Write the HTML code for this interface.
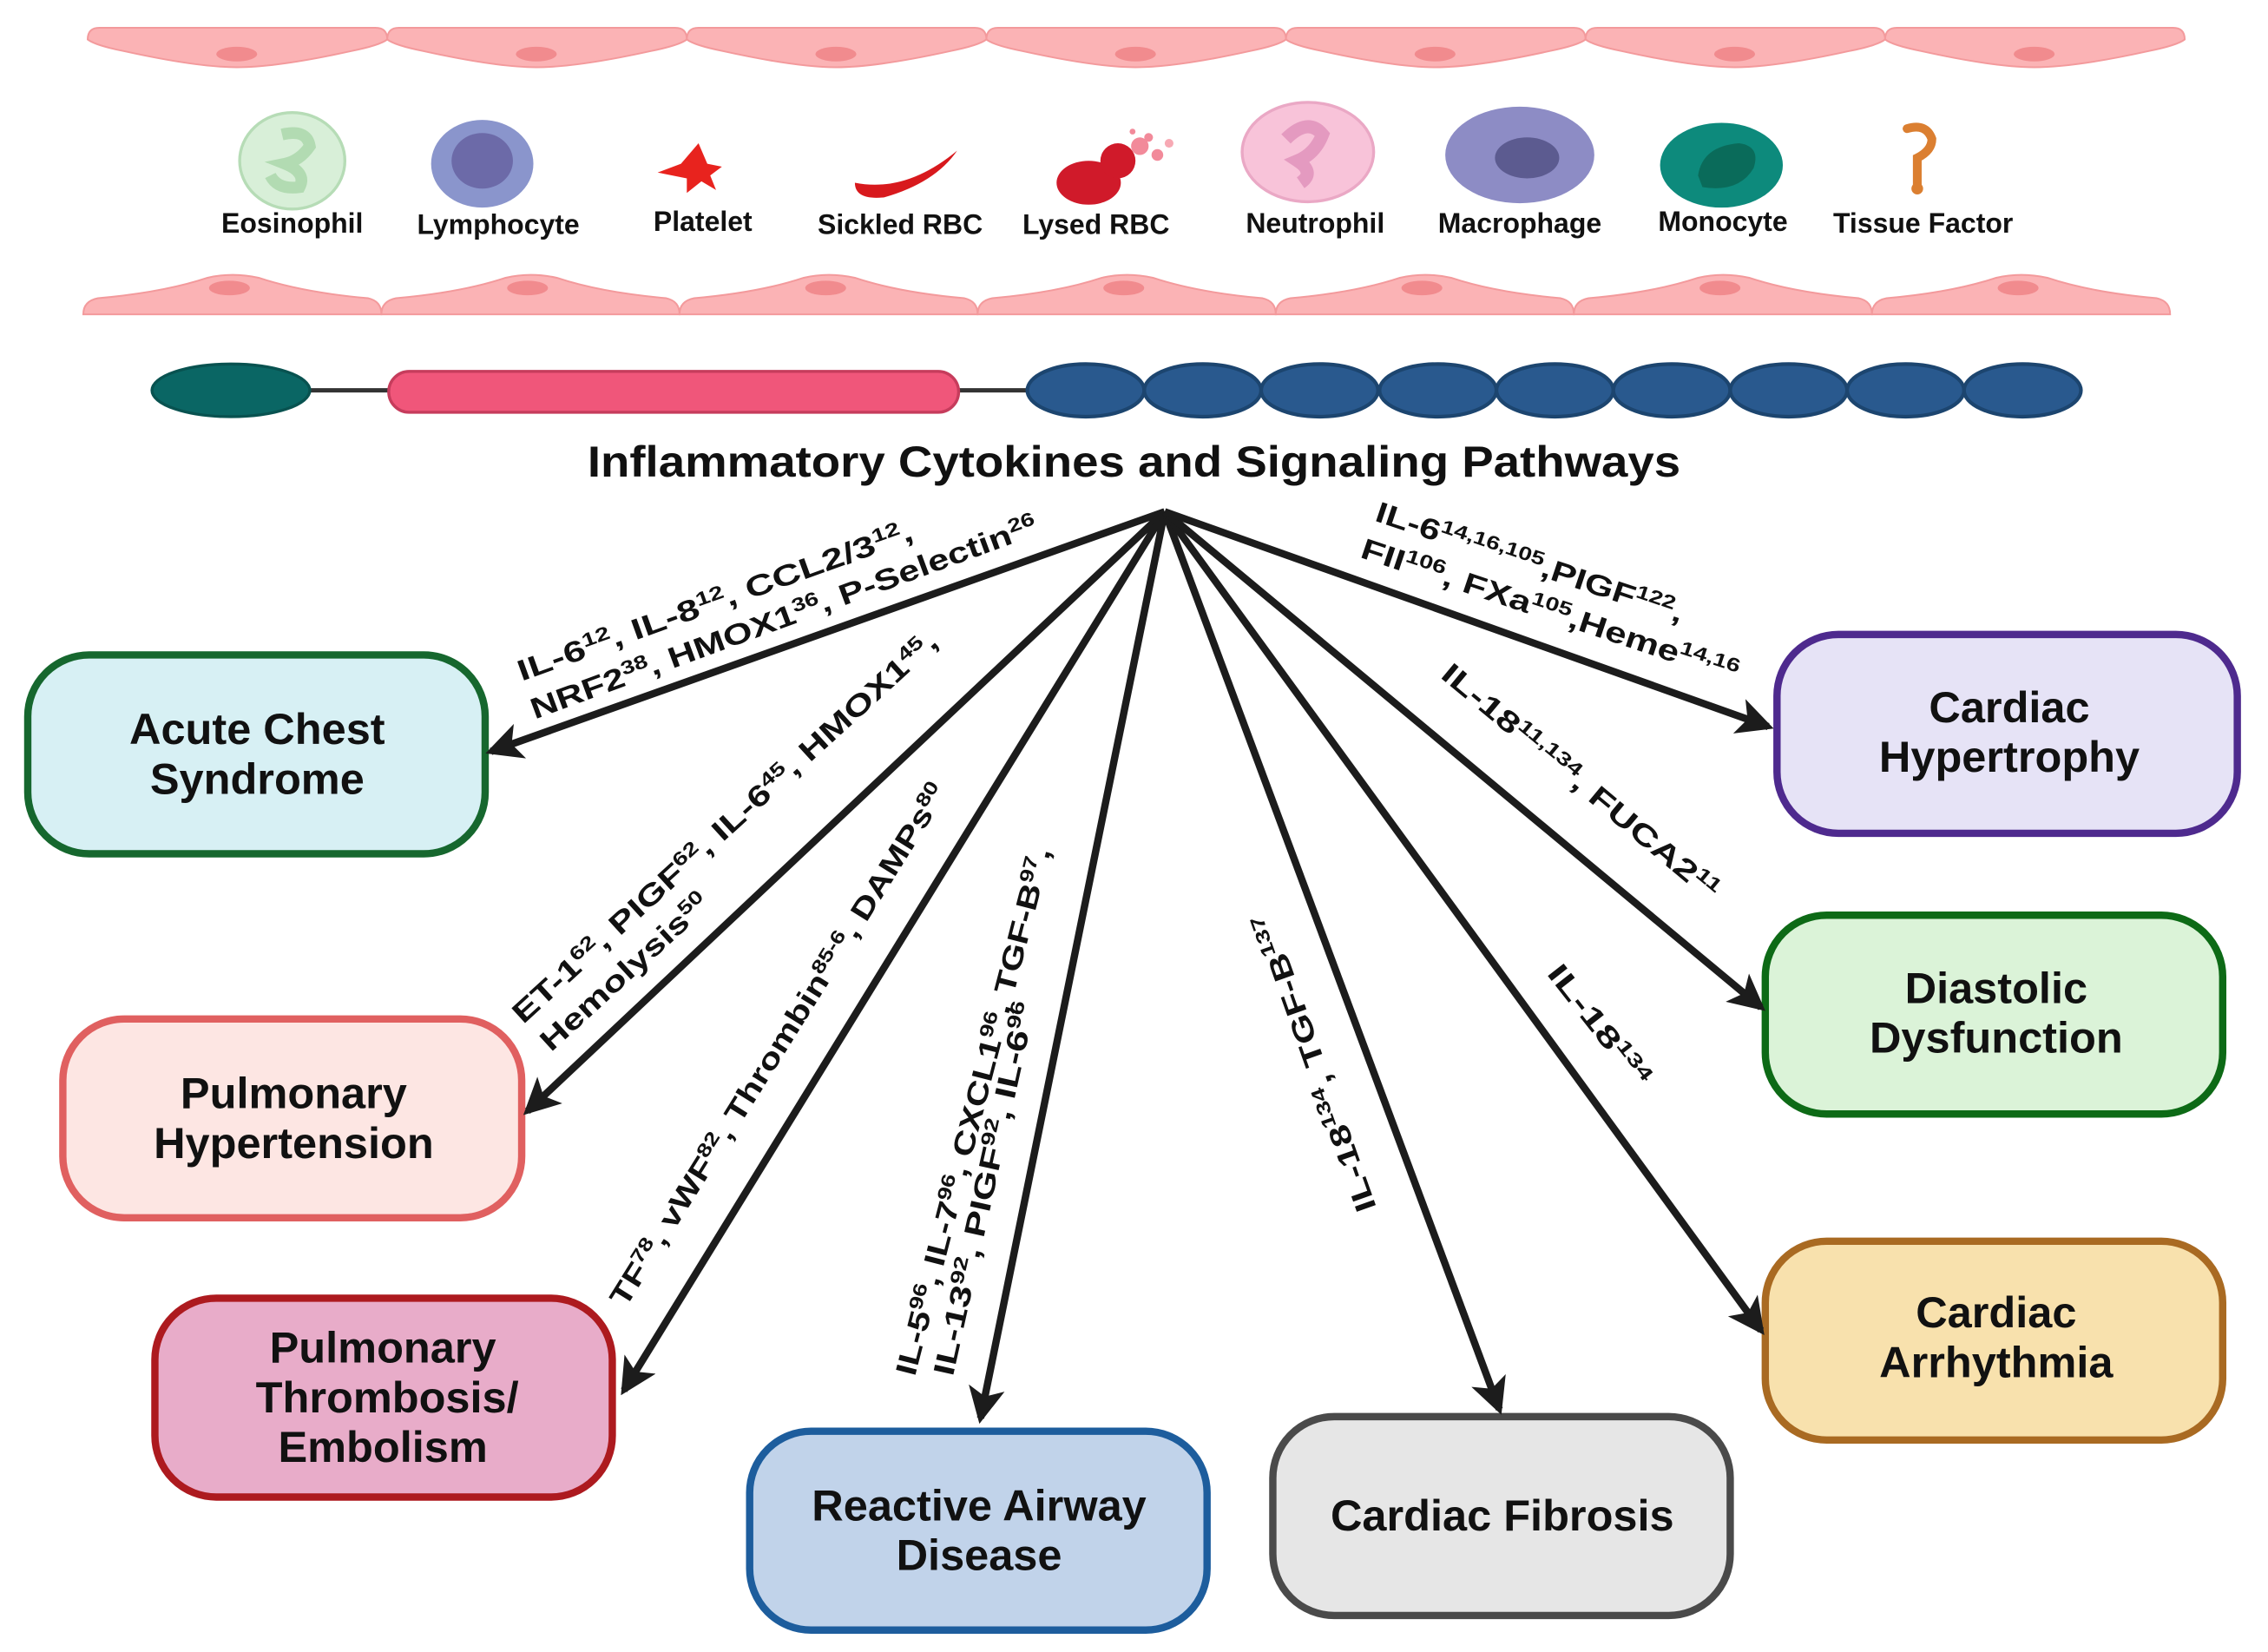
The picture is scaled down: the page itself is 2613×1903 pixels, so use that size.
<!DOCTYPE html>
<html><head><meta charset="utf-8">
<style>
html,body{margin:0;padding:0;background:#fff;}
svg{display:block;}
text{font-family:"Liberation Sans",sans-serif;font-weight:bold;fill:#111;}
.box{font-size:30px;}
.lab{font-size:20px;}
.sup{font-size:13px;}
.cell{font-size:19px;}
</style></head>
<body>
<svg width="2613" height="1903" viewBox="0 0 1552 1130" preserveAspectRatio="none" xmlns="http://www.w3.org/2000/svg">
<defs>
<g id="tc">
<path d="M8,0 H197 Q205,0 205,8 Q200,12 180,16 Q130,27 102,27 Q75,27 25,16 Q5,12 0,8 Q0,0 8,0 Z" fill="#fbb3b5" stroke="#f39a9c" stroke-width="1.2"/>
<ellipse cx="102" cy="18" rx="14" ry="5" fill="#f18b8e"/>
</g>
<g id="bc">
<path d="M0,27 H204 Q204,18 195,16 Q150,12 120,2 Q102,-2 85,2 Q55,12 10,16 Q0,18 0,27 Z" fill="#fbb3b5" stroke="#f39a9c" stroke-width="1.2"/>
<ellipse cx="100" cy="9" rx="14" ry="5" fill="#f18b8e"/>
</g>
<marker id="ah" markerWidth="5" markerHeight="5" refX="4.2" refY="2.5" orient="auto" markerUnits="strokeWidth">
<path d="M0,0 L5,2.5 L0,5 L1.2,2.5 Z" fill="#1c1c1c"/>
</marker>
</defs>

<use href="#tc" x="60" y="19"/><use href="#tc" x="265" y="19"/><use href="#tc" x="470" y="19"/><use href="#tc" x="675" y="19"/><use href="#tc" x="880" y="19"/><use href="#tc" x="1085" y="19"/><use href="#tc" x="1290" y="19"/>
<use href="#bc" x="57" y="188"/><use href="#bc" x="261" y="188"/><use href="#bc" x="465" y="188"/><use href="#bc" x="669" y="188"/><use href="#bc" x="873" y="188"/><use href="#bc" x="1077" y="188"/><use href="#bc" x="1281" y="188"/>

<ellipse cx="200" cy="110" rx="36" ry="33" fill="#d8efd8" stroke="#b6dcb6" stroke-width="2"/>
<path d="M193,92 Q210,88 212,100 Q205,110 195,112 Q210,118 205,128 Q190,130 185,120" fill="none" stroke="#b2dbb2" stroke-width="8"/>
<ellipse cx="330" cy="112" rx="35" ry="30" fill="#8a95cc"/>
<ellipse cx="330" cy="110" rx="21" ry="19" fill="#6c6aa8"/>
<path d="M478,98 L484,112 L494,114 L486,120 L490,130 L480,124 L470,132 L470,122 L450,118 L466,112 Z" fill="#e8231e"/>
<path d="M585,125 Q620,132 655,103 Q640,125 605,135 Q585,137 585,125 Z" fill="#d8191d"/>
<ellipse cx="745" cy="125" rx="22" ry="15" fill="#d01a2a"/>
<circle cx="765" cy="110" r="12" fill="#d01a2a"/>
<circle cx="780" cy="100" r="6" fill="#f28a9a"/><circle cx="792" cy="106" r="4" fill="#f28a9a"/><circle cx="786" cy="94" r="3" fill="#f28a9a"/><circle cx="800" cy="98" r="3" fill="#f7a9b4"/><circle cx="775" cy="90" r="2" fill="#f28a9a"/>
<ellipse cx="895" cy="104" rx="45" ry="34" fill="#f8c3d9" stroke="#eaa8c5" stroke-width="2"/>
<path d="M880,95 Q895,80 905,92 Q900,105 888,110 Q900,118 890,125" fill="none" stroke="#e49ac0" stroke-width="9"/>
<ellipse cx="1040" cy="106" rx="51" ry="33" fill="#8d8cc5"/>
<ellipse cx="1045" cy="108" rx="22" ry="14" fill="#5c5b90"/>
<ellipse cx="1178" cy="113" rx="42" ry="29" fill="#0d8a7c"/>
<path d="M1162,120 Q1165,100 1190,98 Q1205,100 1200,115 Q1190,132 1165,128 Z" fill="#0a6b5a"/>
<path d="M1305,88 Q1318,84 1322,95 Q1322,103 1312,108 L1312,127" fill="none" stroke="#db7f31" stroke-width="6" stroke-linecap="round"/>
<circle cx="1312" cy="129" r="4" fill="#db7f31"/>

<text class="cell" x="200" y="159" text-anchor="middle">Eosinophil</text>
<text class="cell" x="341" y="160" text-anchor="middle">Lymphocyte</text>
<text class="cell" x="481" y="158" text-anchor="middle">Platelet</text>
<text class="cell" x="616" y="160" text-anchor="middle">Sickled RBC</text>
<text class="cell" x="750" y="160" text-anchor="middle">Lysed RBC</text>
<text class="cell" x="900" y="159" text-anchor="middle">Neutrophil</text>
<text class="cell" x="1040" y="159" text-anchor="middle">Macrophage</text>
<text class="cell" x="1179" y="158" text-anchor="middle">Monocyte</text>
<text class="cell" x="1316" y="159" text-anchor="middle">Tissue Factor</text>

<line x1="210" y1="267" x2="710" y2="267" stroke="#333" stroke-width="3"/>
<ellipse cx="158" cy="267" rx="54" ry="18" fill="#0a6664" stroke="#085250" stroke-width="2"/>
<rect x="266" y="254" width="390" height="28" rx="14" fill="#f0567a" stroke="#c63c5c" stroke-width="2"/>
<g fill="#29598e" stroke="#1c456f" stroke-width="2.5">
<ellipse cx="743" cy="267" rx="40" ry="18"/><ellipse cx="823" cy="267" rx="40" ry="18"/><ellipse cx="903" cy="267" rx="40" ry="18"/><ellipse cx="984" cy="267" rx="40" ry="18"/><ellipse cx="1064" cy="267" rx="40" ry="18"/><ellipse cx="1144" cy="267" rx="40" ry="18"/><ellipse cx="1224" cy="267" rx="40" ry="18"/><ellipse cx="1304" cy="267" rx="40" ry="18"/><ellipse cx="1384" cy="267" rx="40" ry="18"/>
</g>

<text x="402" y="326" font-size="30" textLength="748" lengthAdjust="spacingAndGlyphs">Inflammatory Cytokines and Signaling Pathways</text>

<rect x="19" y="448" width="313" height="136" rx="42" fill="#d7f0f4" stroke="#16672e" stroke-width="5"/>
<text class="box" x="176" y="509" text-anchor="middle">Acute Chest</text><text class="box" x="176" y="543" text-anchor="middle">Syndrome</text>
<rect x="43" y="697" width="314" height="136" rx="42" fill="#fde6e3" stroke="#e06060" stroke-width="5"/>
<text class="box" x="201" y="758" text-anchor="middle">Pulmonary</text><text class="box" x="201" y="792" text-anchor="middle">Hypertension</text>
<rect x="106" y="888" width="313" height="136" rx="42" fill="#e8acc9" stroke="#ad1a1f" stroke-width="5"/>
<text class="box" x="262" y="932" text-anchor="middle">Pulmonary</text><text class="box" x="265" y="966" text-anchor="middle">Thrombosis/</text><text class="box" x="262" y="1000" text-anchor="middle">Embolism</text>
<rect x="513" y="979" width="313" height="136" rx="42" fill="#c1d3ea" stroke="#1d5d9d" stroke-width="5"/>
<text class="box" x="670" y="1040" text-anchor="middle">Reactive Airway</text><text class="box" x="670" y="1074" text-anchor="middle">Disease</text>
<rect x="871" y="969" width="313" height="136" rx="42" fill="#e6e6e6" stroke="#4a4a4a" stroke-width="5"/>
<text class="box" x="1028" y="1047" text-anchor="middle">Cardiac Fibrosis</text>
<rect x="1208" y="849" width="313" height="136" rx="42" fill="#f8e1ad" stroke="#a96a22" stroke-width="5"/>
<text class="box" x="1366" y="908" text-anchor="middle">Cardiac</text><text class="box" x="1366" y="942" text-anchor="middle">Arrhythmia</text>
<rect x="1208" y="626" width="313" height="136" rx="42" fill="#dbf3d8" stroke="#0d6a16" stroke-width="5"/>
<text class="box" x="1366" y="686" text-anchor="middle">Diastolic</text><text class="box" x="1366" y="720" text-anchor="middle">Dysfunction</text>
<rect x="1216" y="434" width="315" height="136" rx="42" fill="#e6e3f6" stroke="#4e2a8e" stroke-width="5"/>
<text class="box" x="1375" y="494" text-anchor="middle">Cardiac</text><text class="box" x="1375" y="528" text-anchor="middle">Hypertrophy</text>

<g stroke="#1c1c1c" stroke-width="5" fill="none" marker-end="url(#ah)">
<line x1="797" y1="350" x2="336" y2="514"/>
<line x1="797" y1="350" x2="361" y2="760"/>
<line x1="797" y1="350" x2="427" y2="951"/>
<line x1="797" y1="350" x2="671" y2="970"/>
<line x1="797" y1="350" x2="1026" y2="964"/>
<line x1="797" y1="350" x2="1205" y2="910"/>
<line x1="797" y1="350" x2="1205" y2="689"/>
<line x1="797" y1="350" x2="1210" y2="497"/>
</g>

<text class="lab" transform="translate(357,466) rotate(-19.8)" textLength="286" lengthAdjust="spacingAndGlyphs">IL-6<tspan class="sup" baseline-shift="super">12</tspan>, IL-8<tspan class="sup" baseline-shift="super">12</tspan>, CCL2/3<tspan class="sup" baseline-shift="super">12</tspan>,</text>
<text class="lab" transform="translate(366,492) rotate(-20.2)" textLength="368" lengthAdjust="spacingAndGlyphs">NRF2<tspan class="sup" baseline-shift="super">38</tspan>, HMOX1<tspan class="sup" baseline-shift="super">36</tspan>, P-Selectin<tspan class="sup" baseline-shift="super">26</tspan></text>

<text class="lab" transform="translate(358,701) rotate(-42.4)" textLength="386" lengthAdjust="spacingAndGlyphs">ET-1<tspan class="sup" baseline-shift="super">62</tspan>, PIGF<tspan class="sup" baseline-shift="super">62</tspan>, IL-6<tspan class="sup" baseline-shift="super">45</tspan>, HMOX1<tspan class="sup" baseline-shift="super">45</tspan>,</text>
<text class="lab" transform="translate(377,720) rotate(-42.4)" textLength="149" lengthAdjust="spacingAndGlyphs">Hemolysis<tspan class="sup" baseline-shift="super">50</tspan></text>

<text class="lab" transform="translate(428,895) rotate(-58)" textLength="417" lengthAdjust="spacingAndGlyphs">TF<tspan class="sup" baseline-shift="super">78</tspan>, vWF<tspan class="sup" baseline-shift="super">82</tspan>, Thrombin<tspan class="sup" baseline-shift="super">85-6</tspan>, DAMPs<tspan class="sup" baseline-shift="super">80</tspan></text>

<text class="lab" transform="translate(626,942) rotate(-75.5)" textLength="372" lengthAdjust="spacingAndGlyphs">IL-5<tspan class="sup" baseline-shift="super">96</tspan>, IL-7<tspan class="sup" baseline-shift="super">96</tspan>, CXCL1<tspan class="sup" baseline-shift="super">96</tspan>, TGF-B<tspan class="sup" baseline-shift="super">97</tspan>,</text>
<text class="lab" transform="translate(652,942) rotate(-77.5)" textLength="261" lengthAdjust="spacingAndGlyphs">IL-13<tspan class="sup" baseline-shift="super">92</tspan>, PIGF<tspan class="sup" baseline-shift="super">92</tspan>, IL-6<tspan class="sup" baseline-shift="super">96</tspan></text>

<text class="lab" transform="translate(942,826) rotate(-109.5)" textLength="215" lengthAdjust="spacingAndGlyphs">IL-18<tspan class="sup" baseline-shift="super">134</tspan>, TGF-B<tspan class="sup" baseline-shift="super">137</tspan></text>

<text class="lab" transform="translate(1058,666) rotate(52)" textLength="100" lengthAdjust="spacingAndGlyphs">IL-18<tspan class="sup" baseline-shift="super">134</tspan></text>

<text class="lab" transform="translate(985,463) rotate(39.8)" textLength="240" lengthAdjust="spacingAndGlyphs">IL-18<tspan class="sup" baseline-shift="super">11,134</tspan>, FUCA2<tspan class="sup" baseline-shift="super">11</tspan></text>

<text class="lab" transform="translate(940,356) rotate(18.5)" textLength="221" lengthAdjust="spacingAndGlyphs">IL-6<tspan class="sup" baseline-shift="super">14,16,105</tspan>,PIGF<tspan class="sup" baseline-shift="super">122</tspan>,</text>
<text class="lab" transform="translate(930,381) rotate(18.5)" textLength="271" lengthAdjust="spacingAndGlyphs">FII<tspan class="sup" baseline-shift="super">106</tspan>, FXa<tspan class="sup" baseline-shift="super">105</tspan>,Heme<tspan class="sup" baseline-shift="super">14,16</tspan></text>
</svg>
</body></html>
